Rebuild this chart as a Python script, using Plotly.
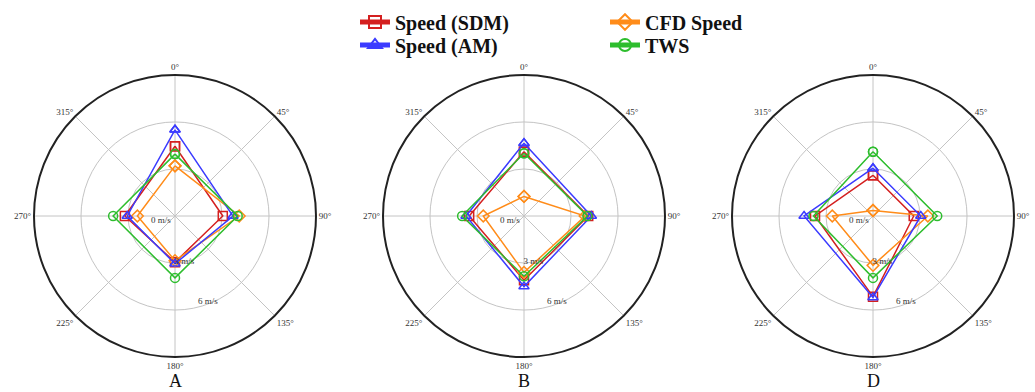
import plotly.graph_objects as go

# angles (deg, clockwise from north) of the measurements; loop closed by repeating first
directions = [0, 90, 180, 270]

# Panel A values (m/s)
a_sdm = [4.45, 3.05, 2.95, 3.2]
a_am = [5.5, 3.7, 3.05, 3.05]
a_cfd = [3.2, 4.1, 2.85, 2.4]
a_tws = [3.95, 4.0, 3.95, 3.95]

# Panel B values (m/s)
b_sdm = [4.1, 4.1, 4.1, 3.5]
b_am = [4.65, 4.3, 4.5, 3.7]
b_cfd = [1.25, 3.9, 3.6, 2.6]
b_tws = [4.0, 4.05, 3.85, 3.95]

# Panel D values (m/s)
d_sdm = [2.6, 2.6, 5.15, 3.7]
d_am = [3.05, 3.05, 5.2, 4.4]
d_cfd = [0.35, 3.5, 3.15, 2.6]
d_tws = [4.1, 4.1, 3.95, 3.8]

panel_labels = ["A", "B", "D"]
angle_ticks = [0, 45, 90, 135, 180, 225, 270, 315]
angle_text = [f"{a}°" for a in angle_ticks]
radial_ticks = [0, 3, 6]
radial_text = ["0 m/s", "3 m/s", "6 m/s"]

styles = {
    "Speed (SDM)": dict(color="#d42020", symbol="square-open", legend="legend"),
    "CFD Speed": dict(color="#ff8c1a", symbol="diamond-open", legend="legend"),
    "Speed (AM)": dict(color="#3b3bff", symbol="triangle-up-open", legend="legend2"),
    "TWS": dict(color="#2dbd2d", symbol="circle-open", legend="legend2"),
}

panels = [
    {"Speed (SDM)": a_sdm, "CFD Speed": a_cfd, "Speed (AM)": a_am, "TWS": a_tws},
    {"Speed (SDM)": b_sdm, "CFD Speed": b_cfd, "Speed (AM)": b_am, "TWS": b_tws},
    {"Speed (SDM)": d_sdm, "CFD Speed": d_cfd, "Speed (AM)": d_am, "TWS": d_tws},
]

W, H = 1035, 392
centers_x = [175, 524, 873]
center_y = 216
R = 141

fig = go.Figure()
draw_order = ["Speed (SDM)", "CFD Speed", "Speed (AM)", "TWS"]
for i, data in enumerate(panels):
    pname = "polar" if i == 0 else f"polar{i+1}"
    for name in draw_order:
        vals = data[name]
        st = styles[name]
        fig.add_trace(go.Scatterpolar(
            r=vals + vals[:1],
            theta=directions + directions[:1],
            mode="lines+markers",
            name=name,
            legendgroup=name,
            legend=st["legend"],
            showlegend=(i == 0),
            line=dict(color=st["color"], width=1.5),
            marker=dict(symbol=st["symbol"], size=9, color=st["color"],
                        line=dict(width=1.5, color=st["color"])),
            subplot=pname,
        ))

serif = "Liberation Serif"
for i, cx in enumerate(centers_x):
    key = "polar" if i == 0 else f"polar{i+1}"
    fig.layout[key] = dict(
        domain=dict(x=[(cx - R) / W, (cx + R) / W],
                    y=[(H - center_y - R) / H, (H - center_y + R) / H]),
        bgcolor="white",
        angularaxis=dict(
            direction="clockwise", rotation=90,
            tickmode="array", tickvals=angle_ticks, ticktext=angle_text,
            ticks="", showline=True, linecolor="#222", linewidth=2,
            gridcolor="#c4c4c4", gridwidth=1,
            tickfont=dict(family=serif, size=9, color="#333"),
        ),
        radialaxis=dict(
            range=[0, 9], angle=-60, tickangle=-60,
            tickmode="array", tickvals=radial_ticks, ticktext=radial_text,
            showline=False, ticks="",
            gridcolor="#c4c4c4", gridwidth=1,
            tickfont=dict(family=serif, size=9, color="#333"),
        ),
    )
    fig.add_annotation(text=panel_labels[i], x=cx / W, y=(H - 381) / H,
                       xref="paper", yref="paper", showarrow=False,
                       xanchor="center", yanchor="middle",
                       font=dict(family=serif, size=18, color="#111"))

legend_common = dict(
    orientation="h", xanchor="left", yanchor="middle",
    entrywidth=205, entrywidthmode="pixels",
    font=dict(family=serif, size=20, color="#111", weight="bold"),
    itemsizing="constant", bgcolor="rgba(0,0,0,0)",
)
fig.update_layout(
    width=W, height=H,
    margin=dict(l=0, r=0, t=0, b=0),
    paper_bgcolor="white",
    showlegend=True,
    legend=dict(x=355 / W, y=(H - 22) / H, **legend_common),
    legend2=dict(x=355 / W, y=(H - 45) / H, **legend_common),
)

fig.write_html("out.html", config={"displayModeBar": False},
               post_script="document.body.style.margin='0px';")
